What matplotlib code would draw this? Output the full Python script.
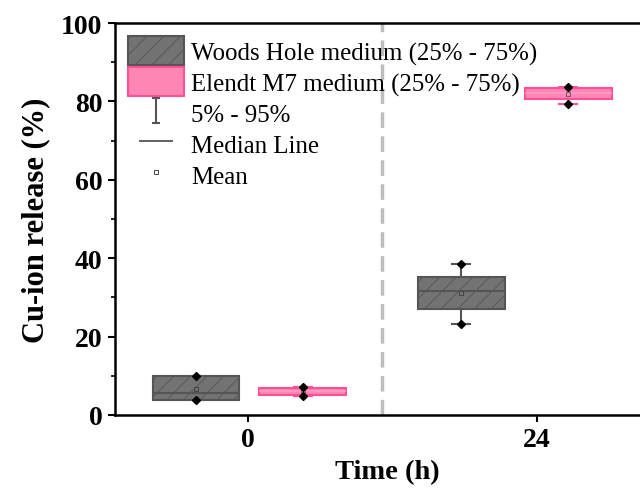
import matplotlib
matplotlib.use("Agg")
import matplotlib.pyplot as plt
from matplotlib.patches import Patch
from matplotlib.lines import Line2D
from matplotlib.path import Path
import numpy as np

# ---- data ----
time_ticks = [0, 24]
tick_labels = ["0", "24"]
series = ["Woods Hole medium (25% - 75%)", "Elendt M7 medium (25% - 75%)"]
woods_pos = [-4.33, 17.7]
elendt_pos = [4.53, 26.6]
woods_q1 = [3.9, 27.0]
woods_med = [5.6, 31.7]
woods_q3 = [10.0, 35.3]
woods_p5 = [3.9, 23.2]
woods_p95 = [10.0, 38.4]
woods_mean = [6.6, 31.1]
woods_min = [3.9, 23.2]
woods_max = [10.0, 38.4]
elendt_q1 = [5.2, 80.5]
elendt_med = [6.1, 82.1]
elendt_q3 = [7.0, 83.4]
elendt_p5 = [4.8, 79.3]
elendt_p95 = [7.2, 83.6]
elendt_mean = [6.1, 82.0]
elendt_min = [4.8, 79.3]
elendt_max = [7.2, 83.6]
divider_x = 11.13

plt.rcParams['font.family'] = ['Liberation Serif', 'DejaVu Serif']
plt.rcParams['hatch.linewidth'] = 0.6

fig = plt.figure(figsize=(6.4, 4.89), dpi=100)
ax = fig.add_axes([115/640, 73/489, 545/640, 392/489])

def stats(q1, med, q3, lo, hi, mean):
    return [dict(q1=a, med=b, q3=c, whislo=d, whishi=e, mean=f, fliers=[])
            for a, b, c, d, e, f in zip(q1, med, q3, lo, hi, mean)]

grey_face = '#737373'
grey_edge = '#555555'
pink_face = '#ff86b4'
pink_edge = '#ff4f95'

bw = 7.2
ax.bxp(stats(woods_q1, woods_med, woods_q3, woods_p5, woods_p95, woods_mean),
       positions=woods_pos, widths=bw, capwidths=1.5, patch_artist=True,
       showmeans=True,
       boxprops=dict(facecolor=grey_face, edgecolor=grey_edge, linewidth=1.5, hatch='//'),
       medianprops=dict(color=grey_edge, linewidth=1.5),
       whiskerprops=dict(color=grey_edge, linewidth=1.5),
       capprops=dict(color=grey_edge, linewidth=1.5),
       meanprops=dict(marker='s', markersize=3, markerfacecolor='none',
                      markeredgecolor='#444444', markeredgewidth=0.7))
ax.bxp(stats(elendt_q1, elendt_med, elendt_q3, elendt_p5, elendt_p95, elendt_mean),
       positions=elendt_pos, widths=bw, capwidths=1.5, patch_artist=True,
       showmeans=True,
       boxprops=dict(facecolor=pink_face, edgecolor=pink_edge, linewidth=1.5),
       medianprops=dict(color='#ff9cc3', linewidth=1.2),
       whiskerprops=dict(color=pink_edge, linewidth=1.5),
       capprops=dict(color=pink_edge, linewidth=1.5),
       meanprops=dict(marker='s', markersize=2.5, markerfacecolor='none',
                      markeredgecolor='#555555', markeredgewidth=0.6))

for pos, lo, hi in [(woods_pos, woods_min, woods_max), (elendt_pos, elendt_min, elendt_max)]:
    ax.plot(pos, lo, 'D', color='black', markersize=4.2, zorder=5)
    ax.plot(pos, hi, 'D', color='black', markersize=4.2, zorder=5)

ax.axvline(divider_x, color='#bdbdbd', linewidth=2.5, linestyle=(0, (4.5, 2.4)), zorder=0)

ax.set_xlim(-11.05, 34.2)
ax.set_ylim(0, 100)
ax.set_xticks(time_ticks)
ax.set_xticklabels(tick_labels)
ax.set_yticks(np.arange(0, 101, 20))
ax.set_yticks(np.arange(10, 100, 20), minor=True)
ax.tick_params(axis='both', which='major', direction='out', length=5, width=1.5,
               labelsize=20, pad=4)
ax.tick_params(axis='y', which='minor', direction='out', length=3, width=1.2)
for lab in ax.get_xticklabels() + ax.get_yticklabels():
    lab.set_fontweight('bold')
for s in ax.spines.values():
    s.set_linewidth(1.8)

ax.set_xlabel('Time (h)', fontsize=20.5, fontweight='bold', labelpad=5)
ax.set_ylabel('Cu-ion release (%)', fontsize=22, fontweight='bold', labelpad=8)

# legend
ibar = Path([(-0.33, 1), (0.33, 1), (0, 1), (0, -1), (-0.33, -1), (0.33, -1)],
            [Path.MOVETO, Path.LINETO, Path.MOVETO, Path.LINETO, Path.MOVETO, Path.LINETO])
handles = [
    Patch(facecolor=grey_face, edgecolor=grey_edge, hatch='//', linewidth=1.5),
    Patch(facecolor=pink_face, edgecolor=pink_edge, linewidth=1.5),
    Line2D([], [], linestyle='none', marker=ibar, markersize=18, markerfacecolor='none',
           markeredgecolor=grey_edge, markeredgewidth=1.5),
    Line2D([], [], linestyle='none', marker='_', markersize=25,
           markeredgecolor=grey_edge, markeredgewidth=1.3),
    Line2D([], [], linestyle='none', marker='s', markersize=3, markerfacecolor='none',
           markeredgecolor='#444444', markeredgewidth=0.7),
]
labels = series + ['5% - 95%', 'Median Line', 'Mean']
ax.legend(handles, labels, loc='upper left', frameon=False, fontsize=17.9,
          handlelength=2.25, handleheight=1.42, labelspacing=0.08, handletextpad=0.28,
          borderaxespad=0.0, borderpad=0.54)

fig.savefig('out.png', dpi=100)
